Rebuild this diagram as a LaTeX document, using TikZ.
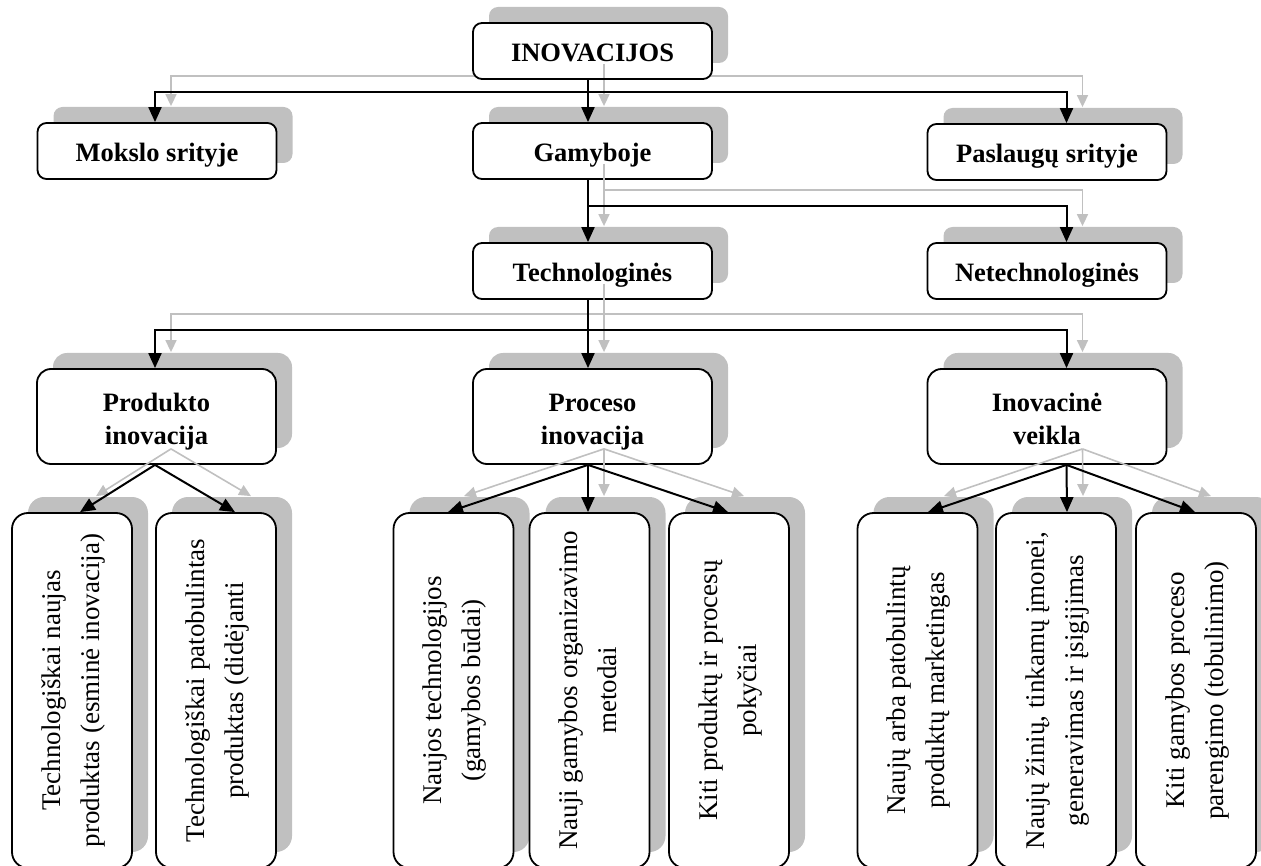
\documentclass[tikz,border=0pt]{standalone}
\usepackage{fontspec}
\setmainfont{Liberation Serif}
\usetikzlibrary{arrows.meta,calc,shadows}
\definecolor{shgray}{RGB}{192,192,192}
\tikzset{
  shad/.style={drop shadow={shadow xshift=16pt,shadow yshift=16pt,opacity=1,fill=shgray,draw=none}},
  tb/.style={draw=black,line width=1.8pt,fill=white,rounded corners=9pt,inner sep=0pt,
     minimum width=239pt,minimum height=56pt,align=center,text height=21.5pt,text depth=0pt,
     font=\fontsize{26.5}{33}\selectfont\bfseries,shad},
  mb/.style={tb,minimum height=95pt,rounded corners=14pt,text height=55pt,text depth=0pt},
  bb/.style={draw=black,line width=1.8pt,fill=white,rounded corners=16pt,inner sep=0pt,
     minimum width=120pt,minimum height=355pt,font=\fontsize{27}{39}\selectfont,shad},
  blk/.style={draw=black,line width=2pt},
  gry/.style={draw=shgray,line width=1.6pt},
  tipk/.style={-{Triangle[length=15pt,width=13pt]}},
  tipg/.style={-{Triangle[length=12pt,width=11pt]}},
}
\newcommand\rottext[1]{\rotatebox{90}{\begin{tabular}{@{}c@{}}#1\end{tabular}}}
% level-1 bar and drops (junction 30 above gam.north)
\newcommand\barone[2]{%
  \draw[#1,#2] ($(gam.north)+(\offx-4.5,\offy-30)$) -| ($(mok.north)+(\offx-2,\offy)$);
  \draw[#1,#2] ($(gam.north)+(\offx-4.5,\offy-30)$) -| ($(pas.north)+(\offx+19.5,\offy)$);
  \draw[#1,#2] ($(gam.north)+(\offx-4.5,\offy-30)$) -- ($(gam.north)+(\offx-4.5,\offy)$);
}
\newcommand\rest[2]{%
  \draw[#1] ($(ino.south)+(\offx-4.5,\offy)$) -- ++(0,14);
  % level 2 -> 3
  \draw[#1,#2] ($(gam.south)+(\offx-4.5,\offy)$) -- ++(0,26) -| ($(net.north)+(\offx+19.5,\offy)$);
  \draw[#1,#2] ($(gam.south)+(\offx-4.5,\offy)$) -- ($(tech.north)+(\offx-4.5,\offy)$);
  % level 3 -> 4
  \draw[#1,#2] ($(tech.south)+(\offx-4.5,\offy)$) -- ++(0,30) -| ($(prod.north)+(\offx-1.5,\offy)$);
  \draw[#1,#2] ($(tech.south)+(\offx-4.5,\offy)$) -- ++(0,30) -| ($(inov.north)+(\offx+19.5,\offy)$);
  \draw[#1,#2] ($(tech.south)+(\offx-4.5,\offy)$) -- ($(proc.north)+(\offx-4.5,\offy)$);
  % level 4 -> 5
  \draw[#1,#2] ($(prod.south)+(\offx-1.5,\offy)$) -- ($(b1.north)+(\offx+8,\offy)$);
  \draw[#1,#2] ($(prod.south)+(\offx-1.5,\offy)$) -- ($(b2.north)+(\offx+19,\offy)$);
  \draw[#1,#2] ($(proc.south)+(\offx-4.5,\offy)$) -- ($(b3.north)+(\offx-5.5,\offy)$);
  \draw[#1,#2] ($(proc.south)+(\offx-4.5,\offy)$) -- ($(b4.north)+(\offx-1.5,\offy)$);
  \draw[#1,#2] ($(proc.south)+(\offx-4.5,\offy)$) -- ($(b5.north)+(\offx-1,\offy)$);
  \draw[#1,#2] ($(inov.south)+(\offx+19.5,\offy)$) -- ($(b6.north)+(\offx+10.5,\offy)$);
  \draw[#1,#2] ($(inov.south)+(\offx+19.5,\offy)$) -- ($(b7.north)+(\offx+11,\offy)$);
  \draw[#1,#2] ($(inov.south)+(\offx+19.5,\offy)$) -- ($(b8.north)+(\offx-1,\offy)$);
}
\begin{document}
\begin{tikzpicture}[x=1pt,y=-1pt]
\useasboundingbox (0,0) rectangle (1261,866);
\node[tb] (mok) at (157,151) {Mokslo srityje};
\node[tb] (gam) at (592.5,151) {Gamyboje};
\node[tb] (pas) at (1047,152) {Paslaugų srityje};
\node[tb] (tech) at (592.5,271) {Technologinės};
\node[tb] (net) at (1047,271) {Netechnologinės};
\node[mb] (prod) at (156.5,416.5) {Produkto\\inovacija};
\node[mb] (proc) at (592.5,416.5) {Proceso\\inovacija};
\node[mb] (inov) at (1047,416.5) {Inovacinė\\veikla};
\node[bb] (b1) at (72,690.5) {\rottext{Technologiškai naujas\\produktas (esminė inovacija)}};
\node[bb] (b2) at (216,690.5) {\rottext{Technologiškai patobulintas\\produktas (didėjanti}};
\node[bb] (b3) at (453.5,690.5) {\rottext{Naujos technologijos\\(gamybos būdai)}};
\node[bb] (b4) at (589.5,690.5) {\rottext{Nauji gamybos organizavimo\\metodai}};
\node[bb] (b5) at (729,690.5) {\rottext{Kiti produktų ir procesų\\pokyčiai}};
\node[bb] (b6) at (917.5,690.5) {\rottext{Naujų arba patobulintų\\produktų marketingas}};
\node[bb] (b7) at (1056,690.5) {\rottext{Naujų žinių, tinkamų įmonei,\\generavimas ir įsigijimas}};
\node[bb] (b8) at (1196,690.5) {\rottext{Kiti gamybos proceso\\parengimo (tobulinimo)}};
\def\offx{16}\def\offy{-16}
\barone{gry}{tipg}
\node[tb] (ino) at (592.5,51) {INOVACIJOS};
\rest{gry}{tipg}
\def\offx{0}\def\offy{0}
\barone{blk}{tipk}
\rest{blk}{tipk}
\end{tikzpicture}
\end{document}
